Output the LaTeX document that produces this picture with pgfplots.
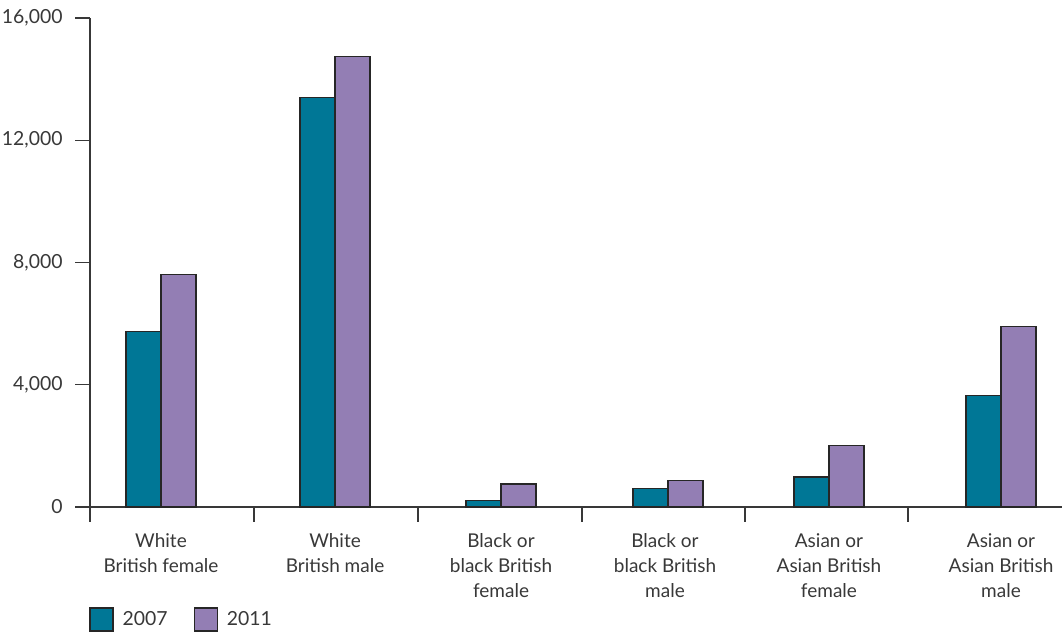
\documentclass[border=0pt]{standalone}
\usepackage{pgfplots}
\pgfplotsset{compat=1.18}
\usepackage{fontspec}
\setmainfont{Lato}
\definecolor{tealA}{HTML}{007796}
\definecolor{purpB}{HTML}{937EB4}
\definecolor{txt}{HTML}{383838}
\begin{document}
\fontsize{9.5}{12.5}\selectfont
\begin{tikzpicture}
\path[use as bounding box] (-45pt,-63pt) rectangle (486pt,253.5pt);
\begin{axis}[
  scale only axis, width=486pt, height=244.5pt,
  at={(0,0)}, anchor=south west,
  axis lines*=left,
  axis line style={draw=txt, line width=0.65pt},
  tick align=outside,
  major tick length=7.25pt,
  tick style={draw=txt, line width=0.65pt},
  xmin=-0.4226, xmax=5.363, ymin=0, ymax=16000,
  ytick={0,4000,8000,12000,16000},
  scaled y ticks=false,
  /pgf/number format/assume math mode=true,
  yticklabel={\pgfmathprintnumber[fixed,1000 sep={,}]{\tick}},
  yticklabel style={font=\fontsize{9.7}{12.5}\selectfont, text=txt, anchor=east, inner sep=0pt, xshift=-6.25pt},
  xtick={-0.4226,0.5536,1.5298,2.506,3.476,4.446},
  xticklabels={},
  extra x ticks={0,1.036,2.024,3.0,3.976,5},
  extra x tick labels={White\\British female, White\\British male, Black or\\black British\\female, Black or\\black British\\male, Asian or\\Asian British\\female, Asian or\\Asian British\\male},
  extra x tick style={major tick length=0pt, tick style={draw=none},
    tick label style={font=\fontsize{9.5}{12.5}\selectfont, text=txt, align=center, anchor=north, inner sep=0pt, yshift=-13pt}},
  ybar=0pt, bar width=17.5pt,
  legend columns=2,
  legend image code/.code={\draw[#1] (0pt,-5.75pt) rectangle (11.5pt,5.75pt);},
  legend style={draw=none, fill=none, at={(0,0)}, anchor=west, xshift=-0.5pt, yshift=-56.25pt,
    inner sep=0pt, font=\fontsize{9.7}{12.5}\selectfont, text=txt,
    /tikz/every odd column/.append style={column sep=2.5pt},
    /tikz/every even column/.append style={column sep=11pt}},
]
\addplot[fill=tealA, draw=black!85, line width=0.6pt] coordinates {(0,5750) (1.036,13400) (2.024,200) (3.018,600) (3.976,980) (5,3660)};
\addplot[fill=purpB, draw=black!85, line width=0.6pt] coordinates {(0,7600) (1.036,14750) (2.024,750) (3.018,870) (3.976,2000) (5,5900)};
\legend{2007, 2011}
\end{axis}
\end{tikzpicture}
\end{document}
